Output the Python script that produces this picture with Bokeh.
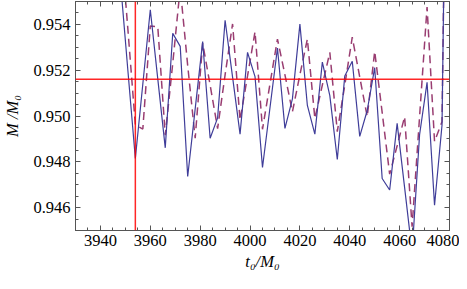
from bokeh.plotting import figure
from bokeh.models import Range1d, LinearAxis, SingleIntervalTicker, Span, PrintfTickFormatter
from bokeh.embed import file_html
from bokeh.resources import INLINE

# time samples (t0/M0)
t = [3948, 3951, 3954, 3957, 3960, 3963, 3966, 3969, 3972, 3975, 3978, 3981,
     3984, 3987, 3990, 3993, 3996, 3999, 4002, 4005, 4008, 4011, 4014, 4017,
     4020, 4023, 4026, 4029, 4032, 4035, 4038, 4041, 4044, 4047, 4050, 4053,
     4056, 4059, 4062, 4065, 4068, 4071, 4074, 4077, 4080]

# solid series (M/M0)
m_solid = [0.9559, 0.9520, 0.94815, 0.9514, 0.95464, 0.95162, 0.94861, 0.95361,
           0.95304, 0.94736, 0.95031, 0.95325, 0.94903, 0.94992, 0.95418, 0.95170,
           0.94921, 0.95278, 0.95172, 0.94775, 0.95036, 0.95297, 0.94946, 0.95075,
           0.95401, 0.95046, 0.94921, 0.95235, 0.95089, 0.94810, 0.95175, 0.95239,
           0.94911, 0.95024, 0.95211, 0.94727, 0.94677, 0.94968, 0.94687, 0.94406,
           0.94918, 0.95147, 0.94610, 0.94961, 0.975]

# dashed series (M/M0)
m_dashed = [0.9579, 0.9538, 0.94961, 0.94943, 0.95393, 0.9539, 0.94916, 0.9523,
            0.9556, 0.9522, 0.94903, 0.95318, 0.95135, 0.94945, 0.9518, 0.95402,
            0.94982, 0.95175, 0.95368, 0.94942, 0.9514, 0.95336, 0.9518, 0.95018,
            0.9518, 0.95336, 0.94989, 0.95135, 0.95278, 0.94932, 0.95135, 0.95344,
            0.9517, 0.94997, 0.95282, 0.95015, 0.94746, 0.9487, 0.94997, 0.94517,
            0.94997, 0.95476, 0.94889, 0.94975, 0.975]

# reference lines
t_mark = 3954
m_mark = 0.9516

FONT = "Liberation Serif"
FRAME = "#555555"

p = figure(width=459, height=273, output_backend="svg", toolbar_location=None,
           x_range=Range1d(3930, 4080), y_range=Range1d(0.945, 0.955),
           x_axis_location=None, y_axis_location=None,
           min_border_top=1, min_border_right=10, min_border_left=10, min_border_bottom=2)
p.grid.visible = False
p.outline_line_color = FRAME
p.background_fill_color = "white"
p.border_fill_color = "white"


def style(ax, show):
    ax.major_tick_in = 5
    ax.major_tick_out = 0
    ax.minor_tick_in = 3
    ax.minor_tick_out = 0
    ax.axis_line_color = FRAME
    ax.major_tick_line_color = FRAME
    ax.minor_tick_line_color = FRAME
    ax.major_label_text_font = FONT
    ax.axis_label_text_font = FONT
    if show:
        ax.major_label_text_font_size = "16.5px"
        ax.major_label_text_color = "black"
        ax.axis_label_text_font_size = "16.5px"
        ax.axis_label_text_font_style = "italic"
        ax.axis_label_text_color = "black"
    else:
        ax.major_label_text_font_size = "1px"
        ax.major_label_text_color = None
        ax.major_label_standoff = 0


xb = LinearAxis(ticker=SingleIntervalTicker(interval=20, num_minor_ticks=4),
                axis_label="t₀/M₀")
style(xb, True)
xb.major_label_standoff = 4
xb.axis_label_standoff = 3
p.add_layout(xb, "below")

xa = LinearAxis(ticker=SingleIntervalTicker(interval=20, num_minor_ticks=4))
style(xa, False)
p.add_layout(xa, "above")

yl = LinearAxis(ticker=SingleIntervalTicker(interval=0.002, num_minor_ticks=4),
                axis_label="M /M₀", formatter=PrintfTickFormatter(format="%.3f"))
style(yl, True)
yl.major_label_standoff = 5
yl.axis_label_standoff = 8
p.add_layout(yl, "left")

yr = LinearAxis(ticker=SingleIntervalTicker(interval=0.002, num_minor_ticks=4))
style(yr, False)
p.add_layout(yr, "right")

p.line(t, m_dashed, line_color="#993D71", line_width=1.5, line_dash="8 5")
p.line(t, m_solid, line_color="#3F3D99", line_width=1.2)

p.add_layout(Span(location=t_mark, dimension="height", line_color="red",
                  line_width=1.5, line_alpha=0.85))
p.add_layout(Span(location=m_mark, dimension="width", line_color="red",
                  line_width=1.5, line_alpha=0.85))

open("out.html", "w").write(file_html(p, INLINE))
